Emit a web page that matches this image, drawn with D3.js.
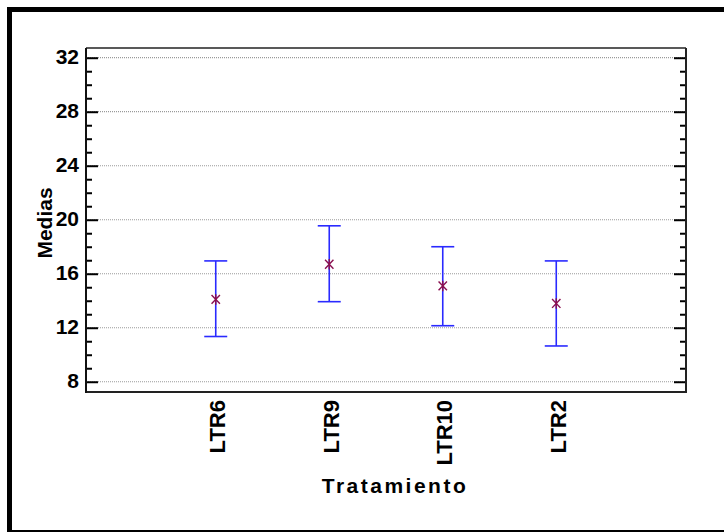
<!DOCTYPE html>
<html>
<head>
<meta charset="utf-8">
<script src="https://cdn.jsdelivr.net/npm/d3@7"></script>
<style>
  html, body { margin: 0; padding: 0; background: #fff; }
  svg { display: block; }
  text { font-family: "Liberation Sans", Arial, sans-serif; font-weight: bold; fill: #000; }
</style>
</head>
<body>
<svg id="chart" width="724" height="532"></svg>
<script>
// Treatment means with their interval limits
const categories = ["LTR6", "LTR9", "LTR10", "LTR2"];
const means = [14.1, 16.7, 15.1, 13.8];
const lower = [11.35, 13.93, 12.15, 10.65];
const upper = [16.95, 19.55, 18.0, 16.95];
const majorTicks = [8, 12, 16, 20, 24, 28, 32];
const minorTicks = d3.range(8, 33, 1).filter(v => v % 4 !== 0);

const svg = d3.select("#chart");
const plotL = 86, plotR = 686, plotT = 48, plotB = 392;

const x = d3.scalePoint().domain(categories).range([plotL, plotR]).padding(1.143);
const y = d3.scaleLinear().domain([7.24, 32.72]).range([plotB, plotT]);

// Page frame
svg.append("line").attr("x1", 7).attr("x2", 724).attr("y1", 9.5).attr("y2", 9.5)
  .attr("stroke", "#000").attr("stroke-width", 5);
svg.append("line").attr("x1", 9.5).attr("x2", 9.5).attr("y1", 7).attr("y2", 532)
  .attr("stroke", "#000").attr("stroke-width", 5);
svg.append("line").attr("x1", 7).attr("x2", 724).attr("y1", 531).attr("y2", 531)
  .attr("stroke", "#000").attr("stroke-width", 2);

// Horizontal grid
svg.append("g").selectAll("line").data(majorTicks).join("line")
  .attr("x1", plotL).attr("x2", plotR)
  .attr("y1", d => y(d)).attr("y2", d => y(d))
  .attr("stroke", "#9a9a9a").attr("stroke-width", 1.2)
  .attr("stroke-dasharray", "1,1");

// Axes: left and right with inward ticks
const leftAxis = d3.axisLeft(y).tickValues(majorTicks).tickSize(-12).tickPadding(19);
const leftMinor = d3.axisLeft(y).tickValues(minorTicks).tickSize(-6).tickFormat("");
const rightAxis = d3.axisRight(y).tickValues(majorTicks).tickSize(-12).tickFormat("");
const rightMinor = d3.axisRight(y).tickValues(minorTicks).tickSize(-6).tickFormat("");

function styleAxis(g) {
  g.select(".domain").remove();
  g.selectAll(".tick line").attr("stroke", "#000").attr("stroke-width", 2);
}

const gl = svg.append("g").attr("transform", `translate(${plotL},0)`).call(leftAxis).call(styleAxis);
gl.selectAll(".tick text")
  .attr("font-size", 21).attr("font-weight", "bold")
  .attr("font-family", "Liberation Sans, Arial, sans-serif")
  .attr("x", -7).attr("dy", "0.28em");
svg.append("g").attr("transform", `translate(${plotL},0)`).call(leftMinor).call(styleAxis);
svg.append("g").attr("transform", `translate(${plotR},0)`).call(rightAxis).call(styleAxis);
svg.append("g").attr("transform", `translate(${plotR},0)`).call(rightMinor).call(styleAxis);

// Plot box
svg.append("line").attr("x1", plotL).attr("x2", plotR).attr("y1", plotT).attr("y2", plotT)
  .attr("stroke", "#222").attr("stroke-width", 1.3);
svg.append("line").attr("x1", plotL).attr("x2", plotR).attr("y1", plotB).attr("y2", plotB)
  .attr("stroke", "#222").attr("stroke-width", 2);
svg.append("line").attr("x1", plotL).attr("x2", plotL).attr("y1", plotT).attr("y2", plotB + 1)
  .attr("stroke", "#111").attr("stroke-width", 2);
svg.append("line").attr("x1", plotR).attr("x2", plotR).attr("y1", plotT).attr("y2", plotB + 1)
  .attr("stroke", "#222").attr("stroke-width", 2);

// Bottom axis: rotated category labels
const xAxis = d3.axisBottom(x).tickSize(0).tickPadding(0);
const gx = svg.append("g").attr("transform", `translate(0,${plotB})`).call(xAxis);
gx.select(".domain").remove();
gx.selectAll(".tick text")
  .attr("font-size", 22).attr("font-weight", "bold")
  .attr("font-family", "Liberation Sans, Arial, sans-serif")
  .attr("text-anchor", "end")
  .attr("transform", "rotate(-90)")
  .attr("x", -8).attr("y", 9).attr("dy", 0);

// Interval bars
const rows = categories.map((c, i) => ({ c, m: means[i], lo: lower[i], hi: upper[i] }));
const bars = svg.append("g").attr("stroke", "#2a2aff").attr("stroke-width", 1.6);
bars.selectAll(".stem").data(rows).join("line")
  .attr("x1", d => x(d.c)).attr("x2", d => x(d.c))
  .attr("y1", d => y(d.hi)).attr("y2", d => y(d.lo));
bars.selectAll(".capHi").data(rows).join("line")
  .attr("x1", d => x(d.c) - 11.5).attr("x2", d => x(d.c) + 11.5)
  .attr("y1", d => y(d.hi)).attr("y2", d => y(d.hi));
bars.selectAll(".capLo").data(rows).join("line")
  .attr("x1", d => x(d.c) - 11.5).attr("x2", d => x(d.c) + 11.5)
  .attr("y1", d => y(d.lo)).attr("y2", d => y(d.lo));

// Mean markers: star made of a vertical stroke and two diagonals
const star = {
  draw(ctx, size) {
    const h = Math.sqrt(size) / 2, w = h * 0.8;
    ctx.moveTo(0, -h); ctx.lineTo(0, h);
    ctx.moveTo(-w, -h * 0.85); ctx.lineTo(w, h * 0.85);
    ctx.moveTo(w, -h * 0.85); ctx.lineTo(-w, h * 0.85);
  }
};
svg.append("g").selectAll("path").data(rows).join("path")
  .attr("d", d3.symbol().type(star).size(110))
  .attr("transform", d => `translate(${x(d.c)},${y(d.m)})`)
  .attr("fill", "none").attr("stroke", "#8a1050").attr("stroke-width", 1.4);

// Axis titles
svg.append("text")
  .attr("transform", `translate(51.5,${(plotT + plotB) / 2 + 3}) rotate(-90)`)
  .attr("text-anchor", "middle")
  .attr("font-size", 21)
  .text("Medias");

svg.append("text")
  .attr("x", 395).attr("y", 493)
  .attr("text-anchor", "middle")
  .attr("font-size", 21)
  .attr("letter-spacing", "2.5px")
  .text("Tratamiento");
</script>
</body>
</html>
